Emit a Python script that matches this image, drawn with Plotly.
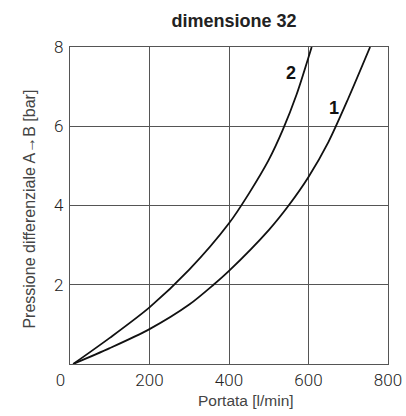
import plotly.graph_objects as go

# Data
flow_1 = [8, 100, 200, 300, 361, 400, 500, 550, 600, 650, 700, 755]
dp_1 = [0, 0.40, 0.88, 1.50, 2.0, 2.35, 3.38, 4.0, 4.72, 5.6, 6.7, 8.0]

flow_2 = [8, 100, 200, 300, 400, 450, 500, 535, 570, 608]
dp_2 = [0, 0.66, 1.43, 2.38, 3.55, 4.3, 5.15, 5.9, 6.8, 8.0]

x_ticks = [0, 200, 400, 600, 800]
x_ticktext = ["0\u2007\u2007", "200", "400", "600", "800"]
y_ticks = [2, 4, 6, 8]

curve_labels = ["1", "2"]
label_x = [664, 556]
label_y = [6.46, 7.34]

title = "dimensione 32"
x_title = "Portata [l/min]"
y_title = "Pressione differenziale A\u2192B [bar]"

fig = go.Figure()
for fx, fy in [(flow_1, dp_1), (flow_2, dp_2)]:
    fig.add_trace(go.Scatter(x=fx, y=fy, mode="lines",
                             line=dict(color="#111111", width=1.8, shape="spline", smoothing=0.8),
                             showlegend=False, hoverinfo="skip"))

for t, lx, ly in zip(curve_labels, label_x, label_y):
    fig.add_annotation(x=lx, y=ly, text="<b>" + t + "</b>", showarrow=False,
                       font=dict(family="Liberation Sans, Arial", size=18, color="#111111"))

# axis titles placed as paper annotations (offset like the reference)
fig.add_annotation(xref="paper", yref="paper", x=0.553, y=-0.1136, text=x_title,
                   showarrow=False, xanchor="center", yanchor="middle",
                   font=dict(family="Liberation Sans, Arial", size=15.5, color="#444444"))
fig.add_annotation(xref="paper", yref="paper", x=-0.126, y=0.49, text=y_title,
                   showarrow=False, textangle=-90, xanchor="center", yanchor="middle",
                   font=dict(family="Liberation Sans, Arial", size=16, color="#444444"))

tick_font = dict(family="Roboto", size=17, color="#222222", weight=300)
fig.update_layout(
    width=406, height=416,
    margin=dict(l=70, r=18, t=47, b=52),
    paper_bgcolor="white", plot_bgcolor="white",
    title=dict(text="<b>" + title + "</b>", x=0.516, xref="paper", xanchor="center",
               y=1 - 21 / 416, yref="container", yanchor="middle",
               font=dict(family="Liberation Sans, Arial", size=18, color="#222222")),
    xaxis=dict(range=[0, 800], tickvals=x_ticks, ticktext=x_ticktext,
               showgrid=True, gridcolor="#555555", gridwidth=1.2,
               showline=True, linecolor="#555555", linewidth=1.2, mirror=True,
               zeroline=False, ticks="", tickfont=tick_font, automargin=False),
    yaxis=dict(range=[0, 8], tickvals=y_ticks,
               showgrid=True, gridcolor="#555555", gridwidth=1.2,
               showline=True, linecolor="#555555", linewidth=1.2, mirror=True,
               zeroline=False, ticks="", tickfont=tick_font, ticklabelstandoff=2,
               automargin=False),
)

fig.write_html("out.html")
